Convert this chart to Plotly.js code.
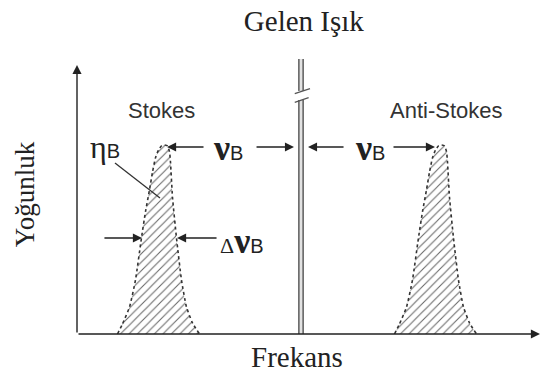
<!DOCTYPE html>
<html>
<head>
<meta charset="utf-8">
<script src="https://cdn.plot.ly/plotly-3.0.1.min.js"></script>
<style>html,body{margin:0;padding:0;background:#fff;}#chart{width:543px;height:374px;}</style>
</head>
<body>
<div id="chart"></div>
<script>
// ---- data (frequency in units of the Brillouin shift νB, intensity normalised) ----
const peakOffset = [-0.325, -0.289, -0.238, -0.195, -0.152, -0.123, -0.094, -0.072, -0.051, -0.029, -0.007, 0.014, 0.036, 0.051, 0.058, 0.072, 0.101, 0.137, 0.173, 0.217, 0.267];
const peakIntensity = [0, 0.053, 0.143, 0.286, 0.508, 0.646, 0.762, 0.857, 0.931, 0.974, 0.995, 1.0, 0.995, 0.963, 0.905, 0.725, 0.508, 0.286, 0.143, 0.058, 0];
const brillouinShift = 1;          // νB
const incidentFreq = 0;            // incident light (pump)
const incidentTop = 1.455;
const incidentBreak = [1.238, 1.286];
const halfMax = 0.508;

const stokesX = peakOffset.map(o => incidentFreq - brillouinShift + o);
const antiX = peakOffset.map(o => incidentFreq + brillouinShift + o);

const xMin = -1.6173, xMax = 1.7256, yMax = 1.476;

const peakStyle = {
  type: 'scatter', mode: 'lines', fill: 'tozeroy', fillcolor: 'rgba(0,0,0,0)',
  fillpattern: {shape: '/', fgcolor: '#6a6a6a', bgcolor: '#ffffff', size: 6, solidity: 0.18},
  line: {color: '#333', width: 1.6, dash: 'dot', shape: 'spline', smoothing: 0.5},
  hoverinfo: 'skip', showlegend: false
};

const traces = [
  Object.assign({}, peakStyle, {x: stokesX, y: peakIntensity, name: 'Stokes'}),
  Object.assign({}, peakStyle, {x: antiX, y: peakIntensity, name: 'Anti-Stokes'}),
  {type: 'scatter', mode: 'lines', x: [incidentFreq, incidentFreq], y: [0, incidentBreak[0]], line: {color: '#6e6e6e', width: 6}, hoverinfo: 'skip', showlegend: false},
  {type: 'scatter', mode: 'lines', x: [incidentFreq, incidentFreq], y: [0, incidentBreak[0]], line: {color: '#e2e2e2', width: 2.6}, hoverinfo: 'skip', showlegend: false},
  {type: 'scatter', mode: 'lines', x: [incidentFreq, incidentFreq], y: [incidentBreak[1], incidentTop], line: {color: '#6e6e6e', width: 6}, hoverinfo: 'skip', showlegend: false},
  {type: 'scatter', mode: 'lines', x: [incidentFreq, incidentFreq], y: [incidentBreak[1], incidentTop], line: {color: '#e2e2e2', width: 2.6}, hoverinfo: 'skip', showlegend: false}
];

const greekFont = {family: 'Liberation Serif, DejaVu Serif, serif', size: 36, color: '#222'};
const subB = '<span style="font-family:Liberation Sans;font-size:20px">B</span>';
const nuB = '<b>ν</b>' + subB;

function arrow(x, y, ax, ay) {
  return {x: x, y: y, ax: ax, ay: ay, xref: 'x', yref: 'y', axref: 'x', ayref: 'y',
          text: '', showarrow: true, arrowhead: 2, arrowsize: 1.3, arrowwidth: 1.4,
          arrowcolor: '#222', standoff: 0, startstandoff: 0};
}

const serif = 'Liberation Serif, Times New Roman, serif';

const annotations = [
  // axes arrows
  arrow(xMin, 1.423, xMin, 0),
  arrow(xMax, 0, xMin, 0),
  // x-axis label
  {x: -0.029, y: -0.082, xref: 'x', yref: 'paper', yanchor: 'middle', text: 'Frekans', showarrow: false,
   font: {family: serif, size: 29, color: '#222'}},
  // labels
  {x: -1.004, y: 1.185, xref: 'x', yref: 'y', text: 'Stokes', showarrow: false,
   font: {family: 'Liberation Sans, Arial, sans-serif', size: 22, color: '#333'}},
  {x: 1.054, y: 1.185, xref: 'x', yref: 'y', text: 'Anti-Stokes', showarrow: false,
   font: {family: 'Liberation Sans, Arial, sans-serif', size: 22, color: '#333'}},
  {x: -1.415, y: 0.99, xref: 'x', yref: 'y', text: '<span style="font-size:32px">η</span>' + subB, showarrow: false, font: greekFont},
  {x: -0.527, y: 0.985, xref: 'x', yref: 'y', text: nuB, showarrow: false, font: greekFont},
  {x: 0.498, y: 0.985, xref: 'x', yref: 'y', text: nuB, showarrow: false, font: greekFont},
  {x: -0.6, y: 0.49, xref: 'x', yref: 'y', xanchor: 'left', text: '<span style="font-size:22px">Δ</span>' + nuB, showarrow: false, font: greekFont},
  // νB arrows
  arrow(-0.9675, 0.989, -0.693, 0.989),
  arrow(-0.0505, 0.989, -0.332, 0.989),
  arrow(0.0505, 0.989, 0.318, 0.989),
  arrow(0.9675, 0.989, 0.657, 0.989),
  // ΔνB arrows at half maximum
  arrow(-1.148, halfMax, -1.43, halfMax),
  arrow(-0.895, halfMax, -0.599, halfMax)
];

const shapes = [
  // leader line for ηB
  {type: 'line', xref: 'x', yref: 'y', x0: -1.343, y0: 0.905, x1: -1.018, y1: 0.72, line: {color: '#333', width: 1.3}},
  // break marks on the incident line
  {type: 'line', xref: 'x', yref: 'y', x0: -0.045, y0: 1.272, x1: 0.065, y1: 1.298, line: {color: '#555', width: 1.3}},
  {type: 'line', xref: 'x', yref: 'y', x0: -0.045, y0: 1.226, x1: 0.055, y1: 1.25, line: {color: '#555', width: 1.3}}
];

const layout = {
  width: 543, height: 374,
  margin: {l: 77, r: 3, t: 55, b: 40},
  paper_bgcolor: '#fff', plot_bgcolor: '#fff',
  showlegend: false,
  title: {text: 'Gelen Işık', xref: 'paper', x: 0.49, xanchor: 'center', yref: 'container', y: 0.944, yanchor: 'middle',
          font: {family: serif, size: 29, color: '#222'}},
  xaxis: {range: [xMin, xMax], showgrid: false, zeroline: false, showline: false, showticklabels: false, ticks: '', fixedrange: true},
  yaxis: {range: [0, yMax], showgrid: false, zeroline: false, showline: false, showticklabels: false, ticks: '',
          title: {text: 'Yoğunluk', standoff: 33, font: {family: serif, size: 27, color: '#222'}}, fixedrange: true},
  annotations: annotations,
  shapes: shapes
};

Plotly.newPlot('chart', traces, layout, {staticPlot: true, displayModeBar: false});
</script>
</body>
</html>
